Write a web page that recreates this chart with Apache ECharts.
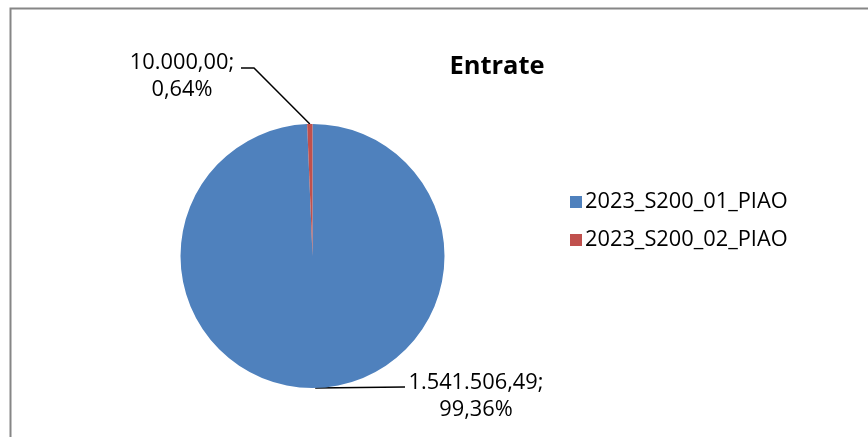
<!DOCTYPE html>
<html><head><meta charset="utf-8">
<script src="https://cdn.jsdelivr.net/npm/echarts@6/dist/echarts.min.js"></script>
<style>html,body{margin:0;padding:0;background:#fff;overflow:hidden}#c{width:868px;height:437px}</style>
</head><body><div id="c"></div>
<script>
var categories = ['2023_S200_01_PIAO', '2023_S200_02_PIAO'];
var values = [1541506.49, 10000.00];
var labelTexts = ['1.541.506,49;\n99,36%', '10.000,00;\n0,64%'];
var colors = ['#4F81BD', '#C0504D'];

var FONT = 'Open Sans';
var chart = echarts.init(document.getElementById('c'), null, {renderer: 'canvas'});
var labelPos = [
  {x: 476, y: 396, pts: [[405, 387], [405, 387]]},
  {x: 182, y: 76, pts: [[254, 68], [241, 68]]}
];
chart.setOption({
  animation: false,
  title: {
    text: 'Entrate', left: 492, top: 62, textAlign: 'center', textVerticalAlign: 'middle',
    textStyle: {fontFamily: FONT, fontWeight: 'bold', fontSize: 25.5, color: '#000'}
  },
  legend: {
    orient: 'vertical', left: 565, top: 186, itemGap: 16, itemWidth: 12, itemHeight: 12,
    icon: 'rect', data: categories,
    textStyle: {fontFamily: FONT, fontSize: 21.8, color: '#000', padding: [0, 0, 0, -2]}
  },
  graphic: [{
    type: 'rect', shape: {x: 10.5, y: 8.5, width: 900, height: 500},
    style: {fill: 'none', stroke: '#868686', lineWidth: 2}, silent: true, z: -1
  }],
  series: [{
    type: 'pie', center: [312.5, 256], radius: 132, startAngle: 90, clockwise: true,
    data: categories.map(function (c, i) { return {name: c, value: values[i], itemStyle: {color: colors[i]}}; }),
    label: {
      show: true, formatter: function (p) { return labelTexts[p.dataIndex]; },
      fontFamily: FONT, fontSize: 21.8, lineHeight: 27, color: '#000', align: 'center'
    },
    labelLine: {show: true, length: 20, length2: 20, lineStyle: {color: '#000', width: 1.5}},
    labelLayout: function (p) {
      var lp = labelPos[p.dataIndex];
      var start = p.labelLinePoints ? p.labelLinePoints[0] : lp.pts[0];
      return {
        x: lp.x, y: lp.y, align: 'center', verticalAlign: 'middle',
        labelLinePoints: [start, lp.pts[0], lp.pts[1]]
      };
    }
  }]
});
</script></body></html>
